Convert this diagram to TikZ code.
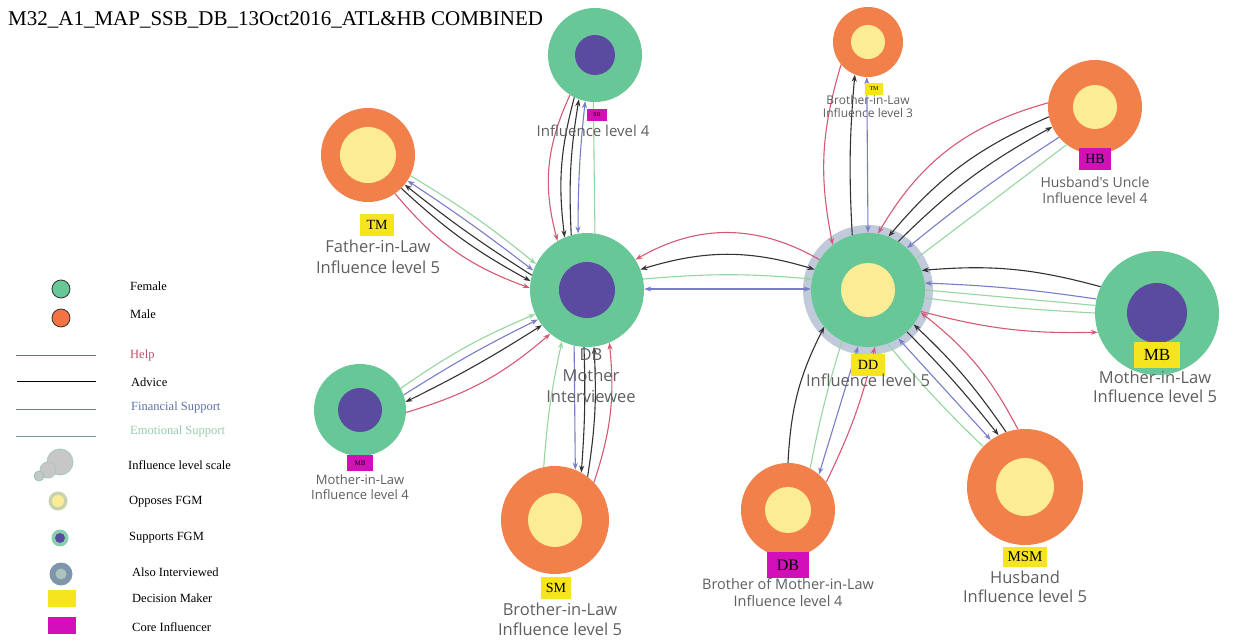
\documentclass[tikz,border=0pt]{standalone}
\usepackage{fontspec}
\setmainfont{Liberation Serif}
\newfontfamily\lf{Open Sans}
\usetikzlibrary{arrows.meta}
\definecolor{fem}{RGB}{104,199,150}
\definecolor{mal}{RGB}{242,128,74}
\definecolor{yin}{RGB}{253,236,150}
\definecolor{pin}{RGB}{90,75,160}
\definecolor{halo}{RGB}{192,202,218}
\definecolor{tagY}{RGB}{245,228,30}
\definecolor{tagM}{RGB}{210,15,185}
\definecolor{cHelp}{RGB}{212,90,115}
\definecolor{cAdv}{RGB}{50,50,50}
\definecolor{cFin}{RGB}{120,125,200}
\definecolor{cEmo}{RGB}{150,215,160}
\definecolor{lblgrey}{RGB}{95,95,95}
\tikzset{
  circ/.style={circle,inner sep=0pt,draw=none},
  hlp/.style={draw=cHelp,line width=1.1pt},
  adv/.style={draw=cAdv,line width=1.1pt},
  fin/.style={draw=cFin,line width=1.1pt},
  emo/.style={draw=cEmo,line width=1.1pt},
  tagy/.style={fill=tagY,inner sep=0pt,text=black},
  tagm/.style={fill=tagM,inner sep=0pt,text=black},
  lbl/.style={text=lblgrey,align=center,inner sep=0pt},
  leg/.style={anchor=west,inner sep=0pt,font=\fontsize{12.5}{14}\selectfont},
}
\newcommand\Ed[4]{\draw[#1] (#2) to[bend left=#4] (#3);}
\begin{document}
\begin{tikzpicture}[x=1pt,y=1pt,>={Stealth[length=7pt,width=5pt]}]
\useasboundingbox (0,0) rectangle (1248,643);
\fill[white] (0,0) rectangle (1248,643);
% title
\node[anchor=west,inner sep=0pt,font=\fontsize{21}{24}\selectfont] (title) at (8,623) {M32\_A1\_MAP\_SSB\_DB\_13Oct2016\_ATL\&HB COMBINED};
% halo
\node[circ,fill=halo,minimum size=130pt] (DDh) at (868,353) {};
% main nodes
\node[circ,fill=fem,minimum size=94pt] (SB) at (595,588) {};
\node[circ,fill=pin,minimum size=40pt] (SBi) at (SB) {};
\node[circ,fill=mal,minimum size=94pt] (TMf) at (368,488) {};
\node[circ,fill=yin,minimum size=56pt] (TMfi) at (TMf) {};
\node[circ,fill=fem,minimum size=114pt] (DBm) at (587,353) {};
\node[circ,fill=pin,minimum size=56pt] (DBmi) at (DBm) {};
\node[circ,fill=fem,minimum size=92pt] (MBl) at (360,233) {};
\node[circ,fill=pin,minimum size=44pt] (MBli) at (MBl) {};
\node[circ,fill=mal,minimum size=108pt] (SM) at (555,123) {};
\node[circ,fill=yin,minimum size=54pt] (SMi) at (SM) {};
\node[circ,fill=fem,minimum size=114pt] (DD) at (868,353) {};
\node[circ,fill=yin,minimum size=54pt] (DDi) at (DD) {};
\node[circ,fill=mal,minimum size=70pt] (TMs) at (868,601) {};
\node[circ,fill=yin,minimum size=34pt] (TMsi) at (TMs) {};
\node[circ,fill=mal,minimum size=94pt] (HB) at (1095,536) {};
\node[circ,fill=yin,minimum size=44pt] (HBi) at (HB) {};
\node[circ,fill=fem,minimum size=124pt] (MBr) at (1157,330) {};
\node[circ,fill=pin,minimum size=60pt] (MBri) at (MBr) {};
\node[circ,fill=mal,minimum size=94pt] (DBb) at (788,133) {};
\node[circ,fill=yin,minimum size=46pt] (DBbi) at (DBb) {};
\node[circ,fill=mal,minimum size=116pt] (MSM) at (1025,156) {};
\node[circ,fill=yin,minimum size=58pt] (MSMi) at (MSM) {};
% edges SB-DBm
\Ed{hlp,->}{SB.-122}{DBm.121}{-20}
\Ed{adv,->}{SB.-116}{DBm.113}{-11}
\Ed{adv,<-}{SB.-110}{DBm.106}{-6}
\Ed{fin,<->}{SB.-102}{DBm.99}{-3}
\Ed{emo}{SB.-92}{DBm.82}{0}
% TMf-DBm
\Ed{emo,->}{TMf.-26}{DBm.153}{4}
\Ed{fin,<->}{TMf.-33}{DBm.160}{2}
\Ed{adv,<-}{TMf.-39}{DBm.165}{-3}
\Ed{adv,->}{TMf.-45}{DBm.171}{-7}
\Ed{hlp,->}{TMf.-55}{DBm.178}{-15}
% MBl-DBm
\Ed{emo,->}{MBl.28}{DBm.-155}{6}
\Ed{fin,->}{MBl.19}{DBm.-149}{3}
\Ed{adv,<->}{MBl.10}{DBm.-142}{-3}
\Ed{hlp,->}{MBl.-3}{DBm.-130}{-12}
% SM-DBm
\Ed{emo,->}{SM.102}{DBm.-116}{4}
\Ed{fin,<-}{SM.68}{DBm.-103}{0}
\Ed{adv,<-}{SM.61}{DBm.-93}{-3}
\Ed{adv,->}{SM.53}{DBm.-83}{-6}
\Ed{hlp,->}{SM.44}{DBm.-67}{-12}
% DBm-DD
\Ed{hlp,<-}{DBm.32}{DD.148}{30}
\Ed{adv,<->}{DBm.21}{DD.159}{17}
\Ed{emo,->}{DBm.11}{DD.169}{5}
\Ed{fin,<->}{DBm.1}{DD.179}{0}
% TMs-DD
\Ed{hlp,->}{TMs.-140}{DD.128}{-14}
\Ed{adv,<-}{TMs.-112}{DD.106}{-4}
\Ed{fin,<->}{TMs.-92}{DD.90}{0}
% HB-DD
\Ed{hlp,->}{HB.175}{DD.80}{-22}
\Ed{adv,->}{HB.-168}{DD.69}{-13}
\Ed{adv,<-}{HB.-155}{DD.58}{-8}
\Ed{fin,->}{HB.-140}{DD.47}{-3}
\Ed{emo}{HB.-127}{DD.33}{0}
% MBr-DD
\Ed{adv,->}{MBr.155}{DD.20}{-10}
\Ed{fin,->}{MBr.167}{DD.7}{-3}
\Ed{emo}{MBr.173}{DD.0}{0}
\Ed{emo}{MBr.180}{DD.-8}{2}
\Ed{hlp,<-}{MBr.-162}{DD.-22}{8}
% MSM-DD
\Ed{emo}{MSM.136}{DD.-70}{3}
\Ed{fin,<->}{MSM.126}{DD.-58}{0}
\Ed{adv,<-}{MSM.117}{DD.-47}{-3}
\Ed{adv,->}{MSM.109}{DD.-37}{-6}
\Ed{hlp,->}{MSM.97}{DD.-23}{-12}
% DBb-DD
\Ed{adv,->}{DBb.90}{DD.-140}{12}
\Ed{emo}{DBb.62}{DD.-117}{3}
\Ed{fin,<->}{DBb.49}{DD.-100}{0}
\Ed{hlp,->}{DBb.36}{DD.-83}{-6}
% tags
\node[tagm,minimum width=20pt,minimum height=12pt,font=\fontsize{6}{7}\selectfont] (tSB) at (597,528) {SB};
\node[lbl,font=\lf\fontsize{15}{19}\selectfont] (lSB) at (593,512) {Influence level 4};
\node[tagy,minimum width=34pt,minimum height=22pt,font=\fontsize{14}{16}\selectfont] (tTMf) at (377,418) {TM};
\node[lbl,font=\lf\fontsize{16.5}{21}\selectfont] (lTMf) at (378,386) {Father-in-Law\\Influence level 5};
\node[lbl,font=\lf\fontsize{16.5}{21}\selectfont] (lDBm) at (591,267) {DB\\Mother\\Interviewee};
\node[tagm,minimum width=26pt,minimum height=16pt,font=\fontsize{7}{8}\selectfont] (tMBl) at (360,180) {MB};
\node[lbl,font=\lf\fontsize{13}{15}\selectfont] (lMBl) at (360,156) {Mother-in-Law\\Influence level 4};
\node[tagy,minimum width=30pt,minimum height=22pt,font=\fontsize{14}{16}\selectfont] (tSM) at (556,55) {SM};
\node[lbl,font=\lf\fontsize{16.5}{20}\selectfont] (lSM) at (560,24) {Brother-in-Law\\Influence level 5};
\node[tagy,minimum width=34pt,minimum height=22pt,font=\fontsize{14}{16}\selectfont] (tDD) at (868,278) {DD};
\node[lbl,font=\lf\fontsize{16.5}{20}\selectfont] (lDD) at (868,263) {Influence level 5};
\node[tagy,minimum width=18pt,minimum height=12pt,font=\fontsize{6}{7}\selectfont] (tTMs) at (874,554) {TM};
\node[lbl,font=\lf\fontsize{12}{13}\selectfont] (lTMs) at (868,536) {Brother-in-Law\\Influence level 3};
\node[tagm,minimum width=32pt,minimum height=22pt,font=\fontsize{14}{16}\selectfont] (tHB) at (1095,484) {HB};
\node[lbl,font=\lf\fontsize{14}{16}\selectfont] (lHB) at (1095,453) {Husband's Uncle\\Influence level 4};
\node[tagy,minimum width=46pt,minimum height=26pt,font=\fontsize{17}{19}\selectfont] (tMBr) at (1157,288) {MB};
\node[lbl,font=\lf\fontsize{16.5}{19}\selectfont] (lMBr) at (1155,256) {Mother-in-Law\\Influence level 5};
\node[tagm,minimum width=42pt,minimum height=26pt,font=\fontsize{16}{18}\selectfont] (tDBb) at (788,78) {DB};
\node[lbl,font=\lf\fontsize{14.5}{17}\selectfont] (lDBb) at (788,50) {Brother of Mother-in-Law\\Influence level 4};
\node[tagy,minimum width=44pt,minimum height=20pt,font=\fontsize{15}{17}\selectfont] (tMSM) at (1025,86) {MSM};
\node[lbl,font=\lf\fontsize{16.5}{19}\selectfont] (lMSM) at (1025,56) {Husband\\Influence level 5};
% legend
\node[circle,fill=fem,draw=black!80,line width=0.8pt,minimum size=18pt,inner sep=0pt] (gF) at (61,354) {};
\node[leg] (gFt) at (130,357) {Female};
\node[circle,fill=mal!90!red,draw=black!80,line width=0.8pt,minimum size=18pt,inner sep=0pt] (gM) at (61,325) {};
\node[leg] (gMt) at (130,329) {Male};
\coordinate (h1) at (16,288); \coordinate (h2) at (96,288);
\draw[draw=cHelp!90!black,line width=0.9pt] (h1) -- (h2);
\node[leg,text=cHelp!90!black] (gHt) at (130,288) {Help};
\coordinate (a1) at (17,261); \coordinate (a2) at (96,261);
\draw[draw=black,line width=1pt] (a1) -- (a2);
\node[leg] (gAt) at (131,261) {Advice};
\coordinate (f1) at (16,234); \coordinate (f2) at (96,234);
\draw[draw={rgb,255:red,110;green,125;blue,150},line width=0.9pt] (f1) -- (f2);
\node[leg,text={rgb,255:red,95;green,115;blue,170}] (gFit) at (131,236) {Financial Support};
\coordinate (e1) at (16,207); \coordinate (e2) at (96,207);
\draw[draw={rgb,255:red,120;green,150;blue,160},line width=0.9pt] (e1) -- (e2);
\node[leg,text={rgb,255:red,150;green,205;blue,175}] (gEt) at (130,212) {Emotional Support};
\node[circle,fill=black!22,draw={rgb,255:red,165;green,200;blue,185},line width=0.8pt,minimum size=26pt,inner sep=0pt] (gS1) at (60,181) {};
\node[circle,fill=black!22,draw={rgb,255:red,165;green,200;blue,185},line width=0.8pt,minimum size=16pt,inner sep=0pt] (gS2) at (48,173) {};
\node[circle,fill=black!22,draw={rgb,255:red,150;green,200;blue,180},line width=0.8pt,minimum size=10pt,inner sep=0pt] (gS3) at (39,167) {};
\node[leg] (gSt) at (128,178) {Influence level scale};
\node[circle,fill={rgb,255:red,200;green,210;blue,175},minimum size=19pt,inner sep=0pt] (gO) at (58,142) {};
\node[circle,fill=yin,minimum size=12pt,inner sep=0pt] (gOi) at (gO) {};
\node[leg] (gOt) at (129,141) {Opposes FGM};
\node[circle,fill=fem!80!white,minimum size=17pt,inner sep=0pt] (gSu) at (60,105) {};
\node[circle,fill=pin,minimum size=10pt,inner sep=0pt] (gSui) at (gSu) {};
\node[leg] (gSut) at (129,105) {Supports FGM};
\node[circle,fill={rgb,255:red,125;green,150;blue,172},minimum size=23pt,inner sep=0pt] (gI) at (61,69) {};
\node[circle,fill={rgb,255:red,175;green,195;blue,190},minimum size=11pt,inner sep=0pt] (gIi) at (gI) {};
\node[leg] (gIt) at (132,71) {Also Interviewed};
\node[fill=tagY,minimum width=28pt,minimum height=17pt,inner sep=0pt] (gD) at (62,44.5) {};
\node[leg] (gDt) at (132,45) {Decision Maker};
\node[fill=tagM,minimum width=28pt,minimum height=17pt,inner sep=0pt] (gC) at (62,17.5) {};
\node[leg] (gCt) at (132,16) {Core Influencer};
\end{tikzpicture}
\end{document}
